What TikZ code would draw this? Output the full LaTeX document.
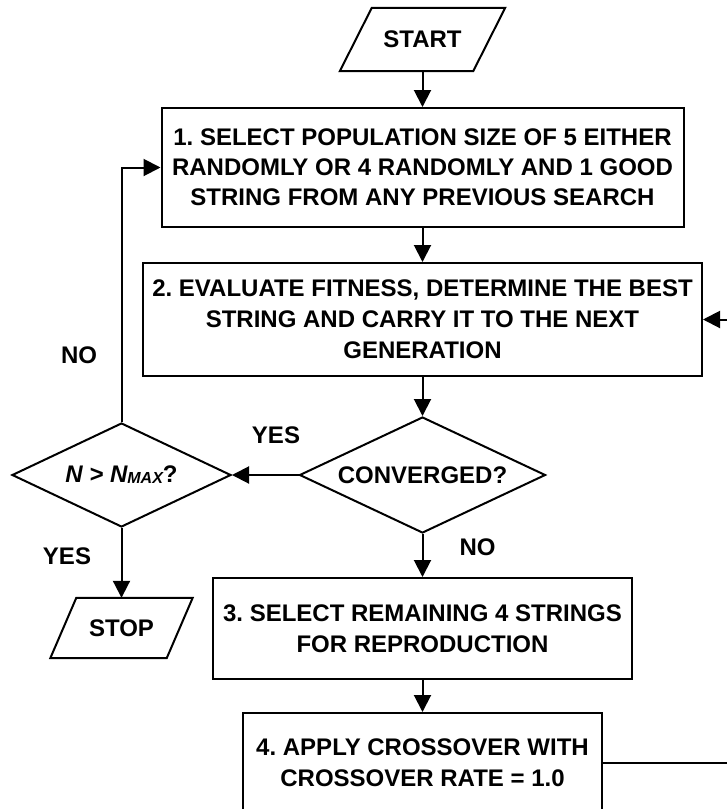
\documentclass[tikz,border=0pt]{standalone}
\usepackage{fontspec}
\setmainfont{Liberation Sans}
\usetikzlibrary{arrows.meta,shapes.geometric,calc}
\frenchspacing
\begin{document}
\begin{tikzpicture}[x=1pt,y=-1pt,
  every node/.style={font=\fontsize{24}{31}\selectfont\bfseries},
  box/.style={draw,line width=2pt,rectangle,align=center,inner sep=0pt},
  dia/.style={draw,line width=2pt,diamond,aspect=2.5,inner sep=0pt,align=center},
  arr/.style={line width=2pt,-{Triangle[length=17pt,width=17pt]}},
  ln/.style={line width=2pt,line join=miter},
  io/.style={inner sep=0pt},
  lbl/.style={inner sep=0pt}
]
\useasboundingbox (0,0) rectangle (727,809);

% start / stop parallelograms
\node[io, minimum width=133pt, minimum height=63pt] (start) at (422.5,39.5) {START};
\draw[ln] ($(start.south west)+(-16,0)$) -- ($(start.north west)+(16,0)$) -- ($(start.north east)+(16,0)$) -- ($(start.south east)+(-16,0)$) -- cycle;

\node[io, minimum width=116pt, minimum height=60pt] (stop) at (121.5,628) {STOP};
\draw[ln] ($(stop.south west)+(-13,0)$) -- ($(stop.north west)+(13,0)$) -- ($(stop.north east)+(13,0)$) -- ($(stop.south east)+(-13,0)$) -- cycle;

% boxes
\node[box, minimum width=522pt, minimum height=119pt, font=\fontsize{24}{30}\selectfont\bfseries] (b1) at (422.5,167.5)
  {1. SELECT POPULATION SIZE OF 5 EITHER\\RANDOMLY OR 4 RANDOMLY AND 1 GOOD\\STRING FROM ANY PREVIOUS SEARCH};
\node[box, minimum width=559pt, minimum height=113pt] (b2) at (422.5,319.5)
  {2. EVALUATE FITNESS, DETERMINE THE BEST\\STRING AND CARRY IT TO THE NEXT\\GENERATION};
\node[box, minimum width=419pt, minimum height=101pt] (b3) at (422.5,628.5)
  {3. SELECT REMAINING 4 STRINGS\\FOR REPRODUCTION};
\node[box, minimum width=359pt, minimum height=99pt] (b4) at (422.5,762.5)
  {4. APPLY CROSSOVER WITH\\CROSSOVER RATE = 1.0};

% decisions
\node[dia, minimum width=246pt, minimum height=116pt] (conv) at (422.5,475) {CONVERGED?};
\node[dia, minimum width=219pt, minimum height=104pt] (nmax) at (121.5,475)
  {\itshape N > N\raisebox{-1pt}{\fontsize{16}{16}\selectfont MAX}\upshape ?};

% labels
\node[lbl] (yes1) at (276,435) {YES};
\node[lbl] (no1) at (477.5,547) {NO};
\node[lbl] (yes2) at (67,556) {YES};
\node[lbl] (no2) at (79,355) {NO};

% connectors
\draw[arr] (start.south) -- (b1.north);
\draw[arr] (b1.south) -- (b2.north);
\draw[arr] (b2.south) -- (conv.north);
\draw[arr] (conv.west) -- (nmax.east);
\draw[arr] (conv.south) -- (b3.north);
\draw[arr] (b3.south) -- (b4.north);
\draw[arr] (nmax.south) -- (stop.north);
\draw[arr] (nmax.north) |- (b1.west);
\coordinate (rr) at (745,762.5);
\draw[arr] (b4.east) -- (rr) |- (b2.east);
\end{tikzpicture}
\end{document}
